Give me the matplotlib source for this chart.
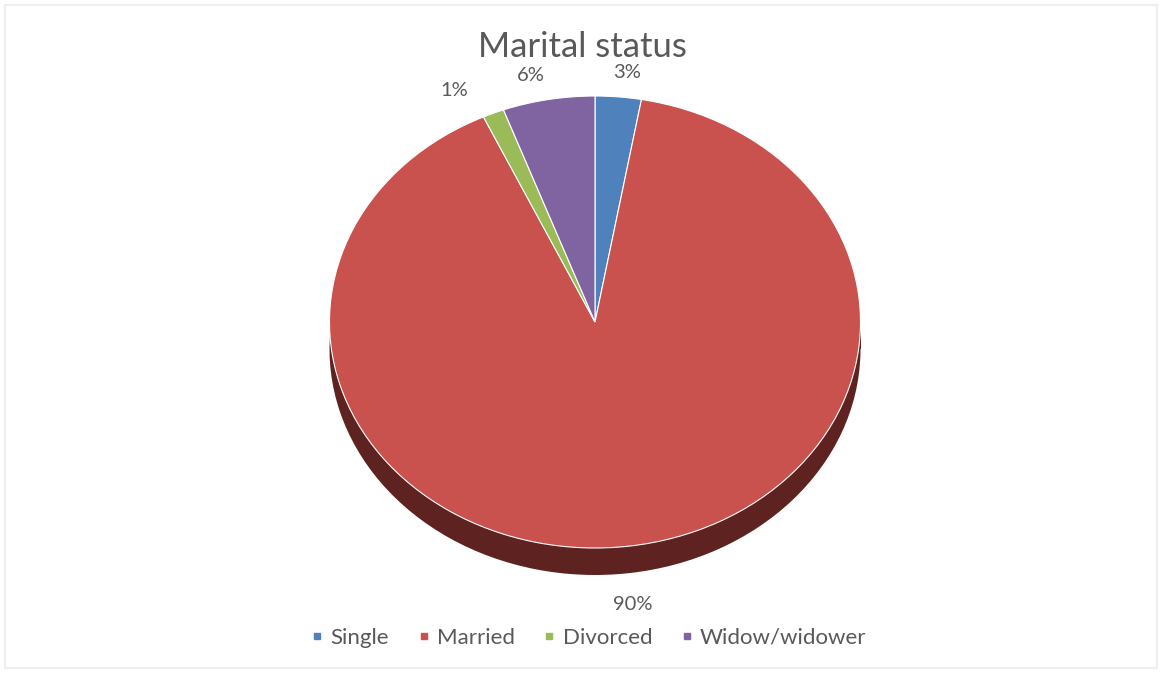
import numpy as np
import matplotlib
matplotlib.use("Agg")
import matplotlib.pyplot as plt
from matplotlib.lines import Line2D
from matplotlib.patches import Rectangle

# ---- data ----
title = "Marital status"
categories = ["Single", "Married", "Divorced", "Widow/widower"]
values = [2.8, 90.3, 1.3, 5.6]
colors = ["#4F81BD", "#C9524E", "#9BBB59", "#8064A2"]
side_color = "#5E2220"

plt.rcParams['font.family'] = ['Lato', 'DejaVu Sans']
TXT = "#595959"

W, H = 1162, 675
fig = plt.figure(figsize=(W / 100, H / 100), dpi=100)
fig.patch.set_facecolor("white")

# faint picture border
fig.add_artist(Rectangle((5 / W, 7 / H), 1152 / W, 663 / H, transform=fig.transFigure,
                         fill=False, edgecolor="#EFEFEF", lw=1.5))

# axes geometry (pixels)
cx, cy = 595, 322
sx, sy = 265.5, 226.0
ax_l, ax_r, ax_t, ax_b = 300, 890, 60, 620
ax = fig.add_axes([ax_l / W, 1 - ax_b / H, (ax_r - ax_l) / W, (ax_b - ax_t) / H])

depth = 27 / sy

# side (depth) of the pie: bottom pie + band
ax.pie(values, colors=[side_color] * len(values), startangle=90, counterclock=False,
       center=(0, -depth), radius=1, wedgeprops=dict(linewidth=0))
ax.add_patch(Rectangle((-1, -depth), 2, depth, facecolor=side_color, edgecolor="none", zorder=0.5))

wedges, texts, autotexts = ax.pie(
    values, colors=colors, startangle=90, counterclock=False, radius=1,
    autopct='%.0f%%', pctdistance=1.12,
    wedgeprops=dict(edgecolor="white", linewidth=0.8),
    textprops=dict(color=TXT, fontsize=14.5))
for w in wedges:
    w.set_zorder(2)

# percentage labels: outside the rim, those below the centre pushed down by the depth
for w, t in zip(wedges, autotexts):
    ang = np.deg2rad((w.theta1 + w.theta2) / 2)
    r = 1.11
    x, y = r * np.cos(ang), r * np.sin(ang)
    if y < 0:
        y -= depth + 0.03
    else:
        x *= 1.25
    t.set_position((x, y))
    t.set_zorder(5)

ax.set_aspect('auto')
ax.set_xlim((ax_l - cx) / sx, (ax_r - cx) / sx)
ax.set_ylim(-(ax_b - cy) / sy, (cy - ax_t) / sy)
ax.axis('off')

fig.text(582 / W, 1 - 47 / H, title, ha='center', va='center', fontsize=25, color=TXT)

handles = [Line2D([], [], marker='s', linestyle='none', markersize=5,
                  markerfacecolor=c, markeredgecolor=c) for c in colors]
fig.legend(handles, categories, loc='center', bbox_to_anchor=(588 / W, 1 - 638 / H),
           ncol=4, frameon=False, fontsize=16, handletextpad=0.25, columnspacing=1.2,
           labelcolor=TXT, handlelength=0.7)

fig.savefig("out.png", dpi=100, facecolor="white")
